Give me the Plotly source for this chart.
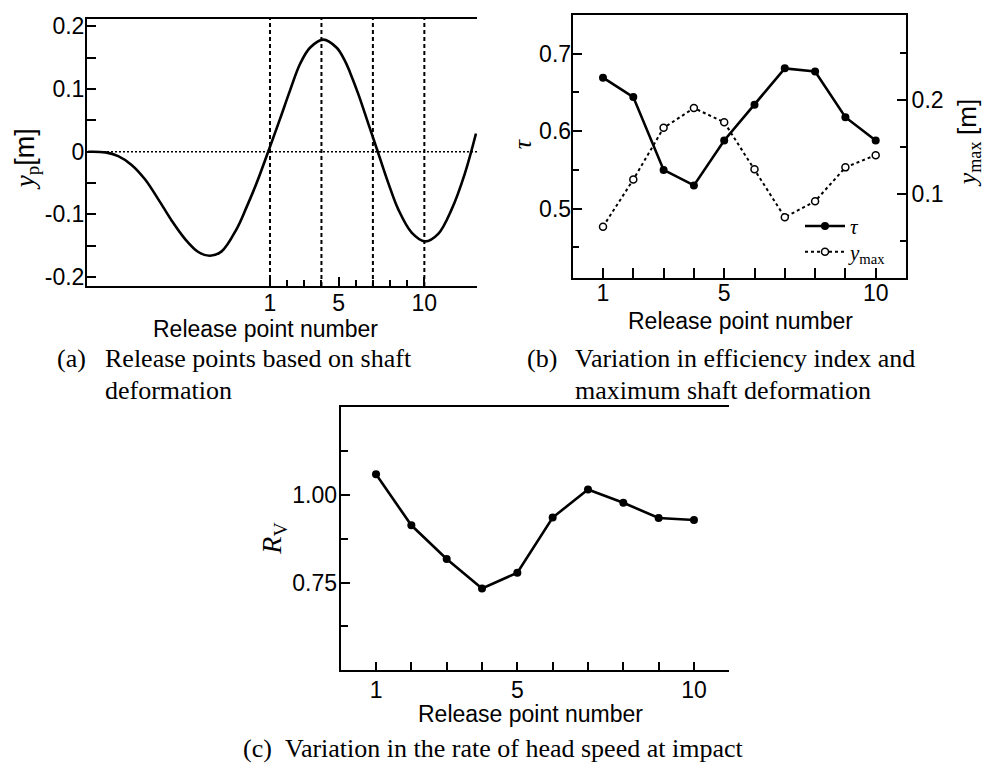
import plotly.graph_objects as go

# ---------------- data ----------------
# (a) shaft deformation y_p vs release point number
curve_x = [-9.6, -8.6, -7.85, -7.07, -6.29, -5.51, -4.73, -3.96, -3.18, -2.5, -1.82,
           -0.94, -0.36, 0.22, 1.0, 1.58, 2.17, 2.75, 3.33, 4.11, 4.89, 5.37, 5.66,
           6.15, 6.73, 7.31, 7.9, 8.48, 9.26, 10.04, 10.81, 11.59, 12.37, 13.01]
curve_y = [0.0, -0.001, -0.007, -0.021, -0.044, -0.076, -0.110, -0.139, -0.160, -0.166, -0.159,
           -0.123, -0.088, -0.050, 0.008, 0.052, 0.098, 0.140, 0.166, 0.179, 0.166, 0.145, 0.127,
           0.092, 0.045, -0.002, -0.050, -0.092, -0.129, -0.143, -0.131, -0.092, -0.034, 0.029]
release_lines = [1, 4, 7, 10]

# (b) efficiency index tau and max shaft deformation
points = [1, 2, 3, 4, 5, 6, 7, 8, 9, 10]
tau = [0.669, 0.644, 0.550, 0.530, 0.588, 0.634, 0.681, 0.677, 0.618, 0.588]
ymax = [0.065, 0.115, 0.170, 0.191, 0.176, 0.126, 0.075, 0.092, 0.128, 0.141]

# (c) rate of head speed at impact
rv = [1.058, 0.913, 0.817, 0.733, 0.778, 0.935, 1.015, 0.977, 0.934, 0.928]

# tick labels
a_yticks = [-0.2, -0.1, 0, 0.1, 0.2]
a_yticktext = ["-0.2", "-0.1", "0", "0.1", "0.2"]
a_yminor = [-0.2, -0.15, -0.1, -0.05, 0, 0.05, 0.1, 0.15, 0.2]
x_major = [1, 5, 10]
b_yticks = [0.5, 0.6, 0.7]
b_yminor = [0.45, 0.55, 0.65]
b_y2ticks = [0.1, 0.2]
b_y2minor = [0.05, 0.15, 0.25]
c_yticks = [0.75, 1.0]
c_yticktext = ["0.75", "1.00"]
c_yminor = [0.625, 0.875, 1.125]

# ---------------- style ----------------
W, H = 991, 765
SANS = "Liberation Sans, Arial, sans-serif"
SERIF = "Liberation Serif, Times New Roman, serif"
TICKFONT = dict(family=SANS, size=23, color="black")
LW = 2


def fx(px):
    return px / W


def fy(py):
    return 1 - py / H


fig = go.Figure()

# (a)
fig.add_trace(go.Scatter(x=curve_x, y=curve_y, mode="lines", line=dict(color="black", width=2.6, shape="spline"),
                         xaxis="x", yaxis="y", showlegend=False))
# (b)
fig.add_trace(go.Scatter(x=points, y=tau, mode="lines+markers", name="<i>τ</i>",
                         line=dict(color="black", width=2.6),
                         marker=dict(color="black", size=8),
                         xaxis="x2", yaxis="y2", legend="legend"))
fig.add_trace(go.Scatter(x=points, y=ymax, mode="lines+markers", name="<i>y</i><sub>max</sub>",
                         line=dict(color="black", width=2, dash="dot"),
                         marker=dict(color="white", size=7, line=dict(color="black", width=1.5)),
                         xaxis="x2", yaxis="y3", legend="legend2"))
# (c)
fig.add_trace(go.Scatter(x=points, y=rv, mode="lines+markers", line=dict(color="black", width=2.6),
                         marker=dict(color="black", size=8), xaxis="x3", yaxis="y4", showlegend=False))

shapes = []
for v in release_lines:
    shapes.append(dict(type="line", xref="x", yref="y domain", x0=v, x1=v, y0=0, y1=1,
                       line=dict(color="black", width=2, dash="4px,3px"), layer="below"))
shapes.append(dict(type="line", xref="x domain", yref="y", x0=0, x1=1, y0=0, y1=0,
                   line=dict(color="black", width=1.5, dash="2px,2px"), layer="below"))


def xax(domain, anchor, rng, mirror=True, ticklen=9, minorlen=6, standoff=0):
    return dict(domain=domain, anchor=anchor, range=rng, showgrid=False, zeroline=False,
                showline=True, linecolor="black", linewidth=LW, mirror=mirror,
                tickmode="array", tickvals=x_major, ticks="inside", ticklen=ticklen, tickwidth=1.5,
                tickcolor="black", tickfont=TICKFONT, ticklabelstandoff=standoff,
                minor=dict(tickmode="array", tickvals=points, ticks="inside", ticklen=minorlen,
                           tickwidth=1.5, tickcolor="black"))


def yax(domain, anchor, rng, vals, text=None, minor=None, ticklen=9, minorlen=6, side="left", standoff=0):
    d = dict(domain=domain, anchor=anchor, range=rng, showgrid=False, zeroline=False,
             showline=True, linecolor="black", linewidth=LW, side=side,
             tickmode="array", tickvals=vals, ticks="inside", ticklen=ticklen, tickwidth=1.5,
             tickcolor="black", tickfont=TICKFONT, ticklabelstandoff=standoff)
    if text is not None:
        d["ticktext"] = text
    if minor is not None:
        d["minor"] = dict(tickmode="array", tickvals=minor, ticks="inside", ticklen=minorlen,
                          tickwidth=1.5, tickcolor="black")
    return d


a_xd = [fx(87), fx(477)]
a_yd = [fy(284.3), fy(14)]
b_xd = [fx(572.7), fx(906)]
b_yd = [fy(276.7), fy(10)]
c_xd = [fx(340.7), fx(729.3)]
c_yd = [fy(673.3), fy(406.7)]

LEGFONT = dict(family=SERIF, size=21, color="black")
layout = dict(
    width=W, height=H, margin=dict(l=0, r=0, t=0, b=0),
    paper_bgcolor="white", plot_bgcolor="white",
    xaxis=xax(a_xd, "y", [-9.67, 13.07], standoff=-5),
    yaxis=yax(a_yd, "x", [-0.2142, 0.2121], a_yticks, a_yticktext, a_yminor, 9, 9, standoff=-4),
    xaxis2=xax(b_xd, "y2", [0, 11], ticklen=10, minorlen=10, standoff=-7),
    yaxis2=yax(b_yd, "x2", [0.41, 0.75], b_yticks, None, b_yminor, 9, 6, standoff=-5),
    yaxis3=yax(b_yd, "x2", [0.01, 0.29], b_y2ticks, None, b_y2minor, 9, 6, side="right", standoff=-1),
    xaxis3=xax(c_xd, "y4", [0, 11], ticklen=8, minorlen=8, standoff=-2),
    yaxis4=yax(c_yd, "x3", [0.5, 1.25], c_yticks, c_yticktext, c_yminor, 9, 7, standoff=-3),
    shapes=shapes,
    showlegend=True,
    legend=dict(x=fx(800), y=fy(224), xanchor="left", yanchor="middle",
                bgcolor="rgba(0,0,0,0)", font=LEGFONT, itemwidth=40),
    legend2=dict(x=fx(800), y=fy(250), xanchor="left", yanchor="middle",
                 bgcolor="rgba(0,0,0,0)", font=LEGFONT, itemwidth=40),
)
layout["yaxis3"]["overlaying"] = "y2"
fig.update_layout(**layout)

ann = []


def text(x, y, s, font, size, xanchor="center", yanchor="middle", angle=0):
    ann.append(dict(x=fx(x), y=fy(y), xref="paper", yref="paper", text=s, showarrow=False,
                    xanchor=xanchor, yanchor=yanchor, textangle=angle,
                    font=dict(family=font, size=size, color="black")))


# axis titles
text(265, 328, "Release point number", SANS, 23)
text(740, 320, "Release point number", SANS, 23)
text(530, 717, "Release point number", SANS, 23)
text(27, 156, "<i>y</i><sub>p</sub><span style='font-family:Liberation Sans'>[m]</span>", SERIF, 27, angle=-90)
text(522, 141, "<i>τ</i>", SERIF, 26, angle=-90)
text(968, 140, "<i>y</i><sub>max</sub> <span style='font-family:Liberation Sans'>[m]</span>", SERIF, 26, angle=-90)
text(274, 540, "<i>R</i><sub>V</sub>", SERIF, 28, angle=-90)

# captions
CAP = 26
text(55, 358, "(a)", SERIF, CAP, xanchor="left")
text(103, 358, "Release points based on shaft", SERIF, CAP, xanchor="left")
text(103, 390, "deformation", SERIF, CAP, xanchor="left")
text(525, 358, "(b)", SERIF, CAP, xanchor="left")
text(573, 358, "Variation in efficiency index and", SERIF, CAP, xanchor="left")
text(573, 390, "maximum shaft deformation", SERIF, CAP, xanchor="left")
text(241, 752, "(c)", SERIF, CAP, xanchor="left")
text(283, 752, "Variation in the rate of head speed at impact", SERIF, CAP, xanchor="left")

fig.update_layout(annotations=ann)
fig.write_html("out.html")
